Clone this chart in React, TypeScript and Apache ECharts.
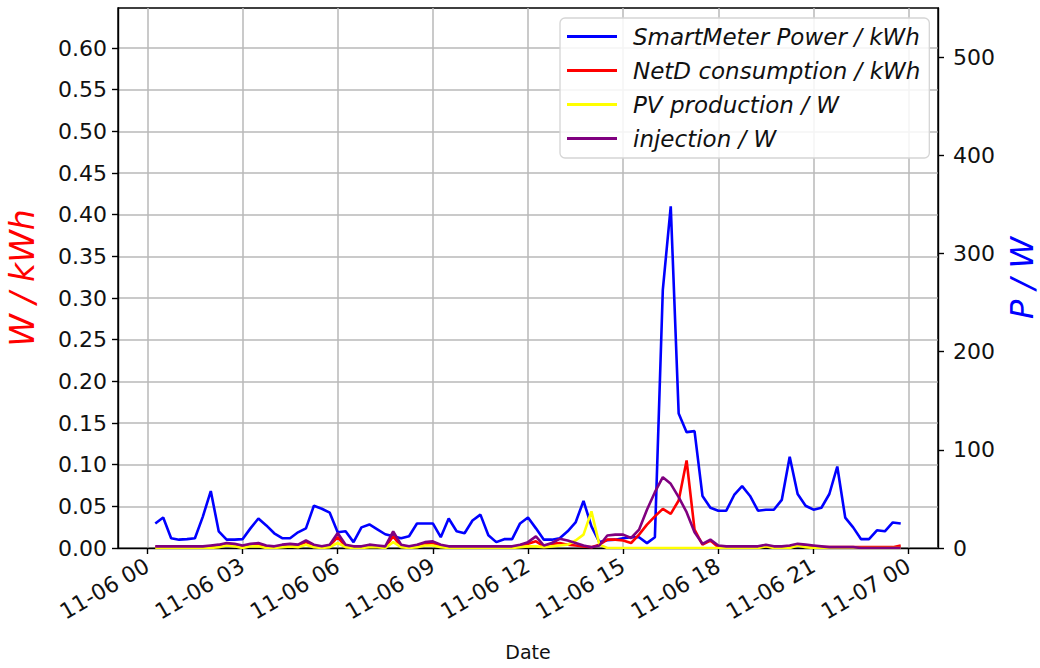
import React, { useEffect, useRef } from "react";
import * as echarts from "echarts";

// sample times on 11-06 (hh:mm), 15-minute readings
const times = [
  "00:15", "00:30", "00:45", "01:00", "01:15", "01:30", "01:45", "02:00", "02:15", "02:30", "02:45", "03:00",
  "03:15", "03:30", "03:45", "04:00", "04:15", "04:30", "04:45", "05:00", "05:15", "05:30", "05:45", "06:00",
  "06:15", "06:30", "06:45", "07:00", "07:15", "07:30", "07:45", "08:00", "08:15", "08:30", "08:45", "09:00",
  "09:15", "09:30", "09:45", "10:00", "10:15", "10:30", "10:45", "11:00", "11:15", "11:30", "11:45", "12:00",
  "12:15", "12:30", "12:45", "13:00", "13:15", "13:30", "13:45", "14:00", "14:15", "14:30", "14:45", "15:00",
  "15:15", "15:30", "15:45", "16:00", "16:15", "16:30", "16:45", "17:00", "17:15", "17:30", "17:45", "18:00",
  "18:15", "18:30", "18:45", "19:00", "19:15", "19:30", "19:45", "20:00", "20:15", "20:30", "20:45", "21:00",
  "21:15", "21:30", "21:45", "22:00", "22:15", "22:30", "22:45", "23:00", "23:15", "23:30", "23:45",
];

// SmartMeter power (right axis, W)
const smartMeterPower = [
  25, 31, 10, 8.5, 9, 10, 32, 58, 17, 8.5, 8.5, 9,
  20, 30, 23, 15, 10, 10, 16, 20, 43, 40, 36, 16,
  17, 6, 21, 24, 19, 14, 12, 10, 12, 25, 25, 25,
  11, 30, 17, 15, 28, 34, 13, 6, 9, 9, 25, 31,
  20, 8.5, 8.5, 10, 17, 26, 48, 22, 6, 8, 8.5, 10,
  11, 11, 5, 11, 263, 348, 137, 118, 119, 53, 41, 38,
  38, 54, 63, 53, 38, 39, 39, 49, 93, 55, 43, 39,
  41, 55, 83, 31, 21, 9, 9, 18, 17, 26, 25,
];

// NetD consumption (left axis)
const netDConsumption = [
  0.001, 0.001, 0.001, 0.001, 0.001, 0.001, 0.001, 0.002, 0.003, 0.005, 0.004, 0.002,
  0.004, 0.004, 0.002, 0.001, 0.003, 0.004, 0.003, 0.007, 0.003, 0.001, 0.003, 0.013,
  0.002, 0.001, 0.001, 0.002, 0.002, 0.001, 0.014, 0.002, 0.001, 0.003, 0.005, 0.006,
  0.002, 0.001, 0.001, 0.001, 0.001, 0.001, 0.001, 0.001, 0.001, 0.001, 0.003, 0.005,
  0.008, 0.002, 0.005, 0.006, 0.004, 0.003, 0.002, 0.001, 0.004, 0.010, 0.010, 0.009,
  0.006, 0.016, 0.028, 0.038, 0.047, 0.041, 0.057, 0.105, 0.022, 0.004, 0.009, 0.001,
  0.001, 0.001, 0.001, 0.001, 0.001, 0.002, 0.001, 0.001, 0.001, 0.003, 0.002, 0.001,
  0.001, 0.001, 0.001, 0.001, 0.001, 0.001, 0.001, 0.001, 0.001, 0.001, 0.003,
];

// PV production (left axis)
const pvProduction = [
  0, 0, 0, 0, 0, 0, 0, 0, 0.001, 0.003, 0.002, 0,
  0.002, 0.002, 0, 0, 0.001, 0.002, 0.001, 0.004, 0.001, 0, 0.001, 0.006,
  0.001, 0, 0, 0.001, 0.001, 0, 0.007, 0.001, 0, 0.001, 0.003, 0.003,
  0.001, 0, 0, 0, 0, 0, 0, 0, 0, 0, 0.001, 0.002,
  0.002, 0.001, 0.002, 0.003, 0.004, 0.009, 0.016, 0.044, 0.004, 0, 0, 0,
  0, 0, 0, 0, 0, 0, 0, 0, 0, 0, 0, 0,
  0, 0, 0, 0, 0, 0.002, 0, 0, 0, 0.003, 0.001, 0,
  0, 0, 0, 0, 0, 0, 0, 0, 0, 0, 0,
];

// injection (left axis)
const injection = [
  0.002, 0.002, 0.002, 0.002, 0.002, 0.002, 0.002, 0.003, 0.004, 0.006, 0.005, 0.003,
  0.005, 0.006, 0.003, 0.002, 0.004, 0.005, 0.004, 0.009, 0.004, 0.002, 0.004, 0.018,
  0.004, 0.002, 0.002, 0.004, 0.003, 0.002, 0.020, 0.004, 0.002, 0.004, 0.007, 0.008,
  0.004, 0.002, 0.002, 0.002, 0.002, 0.002, 0.002, 0.002, 0.002, 0.002, 0.004, 0.007,
  0.014, 0.003, 0.006, 0.011, 0.009, 0.006, 0.003, 0.001, 0.003, 0.015, 0.016, 0.016,
  0.012, 0.022, 0.046, 0.067, 0.085, 0.077, 0.061, 0.043, 0.019, 0.005, 0.010, 0.003,
  0.002, 0.002, 0.002, 0.002, 0.002, 0.004, 0.002, 0.002, 0.003, 0.005, 0.004, 0.003,
  0.002, 0.001, 0.001, 0.001, 0.001, 0, 0, 0, 0, 0, 0,
];

const xTickHours = [0, 3, 6, 9, 12, 15, 18, 21, 24];
const xTickLabels = [
  "11-06 00", "11-06 03", "11-06 06", "11-06 09", "11-06 12",
  "11-06 15", "11-06 18", "11-06 21", "11-07 00",
];

const seriesNames = [
  "SmartMeter Power / kWh",
  "NetD consumption / kWh",
  "PV production / W",
  "injection / W",
];

const FONT = "DejaVu Sans";

function toHours(t: string): number {
  const [h, m] = t.split(":").map(Number);
  return h + m / 60;
}

function pairs(values: number[]): number[][] {
  return values.map((v, i) => [toHours(times[i]), v]);
}

export default function App() {
  const ref = useRef<HTMLDivElement>(null);

  useEffect(() => {
    if (!ref.current) return;
    const chart = echarts.init(ref.current, undefined, { renderer: "svg" });

    const xMin = -0.925;
    const xMax = 24.925;
    const gridLeft = 118;
    const gridRight = 102;
    const plotW = 1040 - gridLeft - gridRight;
    const span = xMax - xMin;
    const x0 = gridLeft + ((xTickHours[0] - xMin) / span) * plotW;
    const x24 = gridLeft + ((xTickHours[xTickHours.length - 1] - xMin) / span) * plotW;

    const lineW = 2.6;
    const spine = { color: "#000", width: 1.4 };
    const gridLine = { color: "#b8b8b8", width: 1.5 };

    const option: any = {
      animation: false,
      backgroundColor: "#ffffff",
      grid: [
        {
          left: gridLeft,
          right: gridRight,
          top: 8,
          bottom: 120,
          containLabel: false,
          outerBoundsMode: "none",
          show: true,
          borderColor: "#000",
          borderWidth: 1.4,
          backgroundColor: "transparent",
        },
        {
          left: x0,
          right: 1040 - x24,
          top: 8,
          bottom: 120,
          containLabel: false,
          outerBoundsMode: "none",
          show: false,
        },
      ],
      legend: {
        orient: "vertical",
        left: 560,
        top: 18,
        data: seriesNames,
        icon: "rect",
        itemWidth: 50,
        itemHeight: 3,
        itemGap: 11,
        padding: [7, 9, 8, 7],
        backgroundColor: "rgba(255,255,255,0.85)",
        borderColor: "#d5d5d5",
        borderWidth: 1.3,
        borderRadius: 5,
        textStyle: {
          fontFamily: FONT,
          fontSize: 23,
          fontStyle: "italic",
          color: "#111",
          padding: [0, 0, 0, 11],
        },
      },
      xAxis: [
        {
          type: "value",
          gridIndex: 0,
          min: xMin,
          max: xMax,
          axisLine: { show: true, onZero: false, lineStyle: spine },
          axisTick: { show: false },
          axisLabel: { show: false },
          splitLine: { show: false },
        },
        {
          type: "value",
          gridIndex: 1,
          min: 0,
          max: 24,
          interval: 3,
          axisLine: { show: false, onZero: false },
          axisTick: { show: true, length: 6, lineStyle: spine },
          axisLabel: {
            rotate: 30,
            margin: 16,
            fontFamily: FONT,
            fontSize: 22,
            color: "#111",
            formatter: (v: number) => xTickLabels[Math.round(v / 3)] ?? "",
          },
          splitLine: { show: true, lineStyle: gridLine },
          name: "Date",
          nameLocation: "middle",
          nameGap: 94,
          nameTextStyle: { fontFamily: FONT, fontSize: 19, color: "#111" },
        },
      ],
      yAxis: [
        {
          type: "value",
          gridIndex: 0,
          min: 0,
          max: 0.648,
          interval: 0.05,
          axisLine: { show: true, onZero: false, lineStyle: spine },
          axisTick: { show: true, length: 6, lineStyle: spine },
          axisLabel: {
            showMaxLabel: false,
            margin: 11,
            fontFamily: FONT,
            fontSize: 22,
            color: "#111",
            formatter: (v: number) => v.toFixed(2),
          },
          splitLine: { show: true, showMaxLine: false, lineStyle: gridLine },
          name: "W / kWh",
          nameLocation: "middle",
          nameRotate: 90,
          nameGap: 79,
          nameTextStyle: { fontFamily: FONT, fontSize: 33, lineHeight: 33, fontStyle: "italic", color: "#ff0000" },
        },
        {
          type: "value",
          gridIndex: 0,
          position: "right",
          min: 0,
          max: 550,
          interval: 100,
          axisLine: { show: true, onZero: false, lineStyle: spine },
          axisTick: { show: true, length: 6, lineStyle: spine },
          axisLabel: {
            showMaxLabel: false,
            margin: 15,
            fontFamily: FONT,
            fontSize: 22,
            color: "#111",
          },
          splitLine: { show: false },
          name: "P / W",
          nameLocation: "middle",
          nameRotate: 90,
          nameGap: 62,
          nameTextStyle: { fontFamily: FONT, fontSize: 32, lineHeight: 32, fontStyle: "italic", color: "#0000ff" },
        },
        {
          type: "value",
          gridIndex: 1,
          min: 0,
          max: 1,
          show: false,
        },
      ],
      series: [
        {
          name: seriesNames[0],
          type: "line",
          xAxisIndex: 0,
          yAxisIndex: 1,
          data: pairs(smartMeterPower),
          color: "#0000ff",
          showSymbol: false,
          symbol: "none",
          lineStyle: { width: lineW, color: "#0000ff" },
          z: 3,
        },
        {
          name: seriesNames[1],
          type: "line",
          xAxisIndex: 0,
          yAxisIndex: 0,
          data: pairs(netDConsumption),
          color: "#ff0000",
          showSymbol: false,
          symbol: "none",
          lineStyle: { width: lineW, color: "#ff0000" },
          z: 3,
        },
        {
          name: seriesNames[2],
          type: "line",
          xAxisIndex: 0,
          yAxisIndex: 0,
          data: pairs(pvProduction),
          color: "#ffff00",
          showSymbol: false,
          symbol: "none",
          lineStyle: { width: lineW, color: "#ffff00" },
          z: 3,
        },
        {
          name: seriesNames[3],
          type: "line",
          xAxisIndex: 0,
          yAxisIndex: 0,
          data: pairs(injection),
          color: "#800080",
          showSymbol: false,
          symbol: "none",
          lineStyle: { width: lineW, color: "#800080" },
          z: 3,
        },
      ],
    };

    chart.setOption(option);
    return () => chart.dispose();
  }, []);

  return (
    <div
      ref={ref}
      style={{ position: "fixed", left: 0, top: 0, width: 1040, height: 668, background: "#fff" }}
    />
  );
}
